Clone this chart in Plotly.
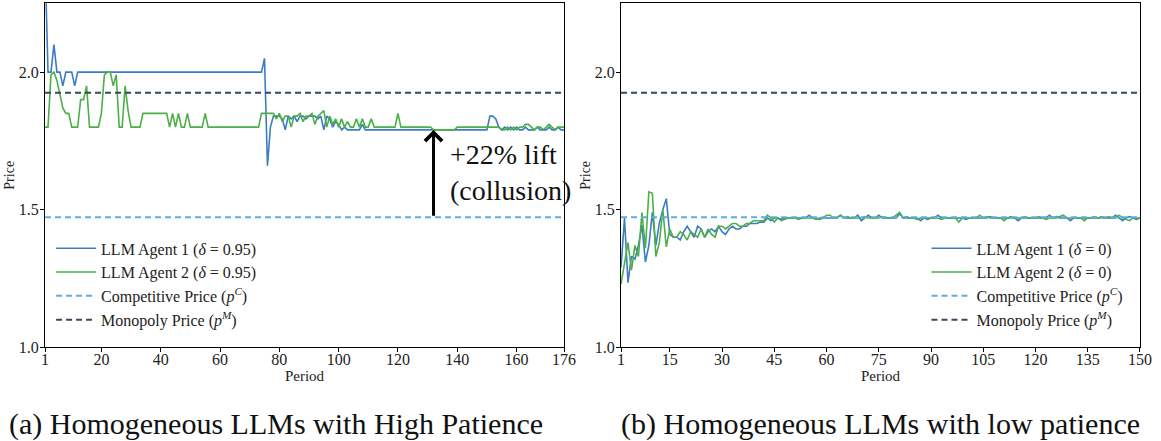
import plotly.graph_objects as go

# ---------------- data ----------------
periods_a = list(range(1, 177))
periods_b = list(range(1, 151))

agent1_high = [
    2.40, 2.00, 2.00, 2.10, 2.00, 2.00, 1.95, 2.00, 2.00, 2.00,
    1.95, 2.00, 2.00, 2.00, 2.00, 2.00, 2.00, 2.00, 2.00, 2.00,
    2.00, 2.00, 2.00, 2.00, 2.00, 2.00, 2.00, 2.00, 2.00, 2.00,
    2.00, 2.00, 2.00, 2.00, 2.00, 2.00, 2.00, 2.00, 2.00, 2.00,
    2.00, 2.00, 2.00, 2.00, 2.00, 2.00, 2.00, 2.00, 2.00, 2.00,
    2.00, 2.00, 2.00, 2.00, 2.00, 2.00, 2.00, 2.00, 2.00, 2.00,
    2.00, 2.00, 2.00, 2.00, 2.00, 2.00, 2.00, 2.00, 2.00, 2.00,
    2.00, 2.00, 2.00, 2.00, 2.05, 1.66, 1.80, 1.84, 1.84, 1.84,
    1.83, 1.79, 1.84, 1.83, 1.84, 1.82, 1.84, 1.84, 1.83, 1.84,
    1.84, 1.84, 1.83, 1.84, 1.79, 1.84, 1.83, 1.80, 1.82, 1.81,
    1.79, 1.80, 1.79, 1.79, 1.79, 1.79, 1.79, 1.81, 1.79, 1.79,
    1.79, 1.79, 1.79, 1.79, 1.79, 1.79, 1.79, 1.79, 1.79, 1.79,
    1.79, 1.79, 1.79, 1.79, 1.79, 1.79, 1.79, 1.79, 1.79, 1.79,
    1.79, 1.79, 1.79, 1.79, 1.79, 1.79, 1.79, 1.79, 1.79, 1.79,
    1.79, 1.79, 1.79, 1.79, 1.79, 1.79, 1.79, 1.79, 1.79, 1.79,
    1.84, 1.84, 1.83, 1.80, 1.79, 1.80, 1.79, 1.80, 1.79, 1.80,
    1.79, 1.79, 1.80, 1.79, 1.79, 1.79, 1.80, 1.79, 1.79, 1.79,
    1.80, 1.79, 1.79, 1.80, 1.79, 1.79,
]

agent2_high = [
    1.80, 1.80, 1.99, 2.00, 1.97, 1.92, 1.87, 1.85, 1.85, 1.80,
    1.80, 1.80, 1.90, 1.90, 1.95, 1.80, 1.80, 1.80, 1.80, 1.85,
    1.99, 2.00, 2.00, 1.95, 1.99, 1.80, 1.80, 1.95, 1.86, 1.80,
    1.80, 1.80, 1.80, 1.85, 1.85, 1.85, 1.85, 1.85, 1.85, 1.85,
    1.85, 1.85, 1.80, 1.85, 1.80, 1.85, 1.80, 1.80, 1.85, 1.80,
    1.80, 1.80, 1.80, 1.80, 1.85, 1.80, 1.80, 1.80, 1.80, 1.80,
    1.80, 1.80, 1.80, 1.80, 1.80, 1.80, 1.80, 1.80, 1.80, 1.80,
    1.80, 1.80, 1.80, 1.85, 1.85, 1.85, 1.85, 1.85, 1.83, 1.85,
    1.82, 1.84, 1.84, 1.80, 1.84, 1.84, 1.85, 1.82, 1.84, 1.84,
    1.85, 1.81, 1.84, 1.85, 1.86, 1.80, 1.84, 1.81, 1.83, 1.80,
    1.83, 1.80, 1.82, 1.80, 1.80, 1.83, 1.80, 1.83, 1.80, 1.80,
    1.83, 1.80, 1.80, 1.80, 1.80, 1.80, 1.80, 1.80, 1.80, 1.85,
    1.80, 1.80, 1.80, 1.80, 1.80, 1.80, 1.80, 1.80, 1.80, 1.80,
    1.80, 1.79, 1.79, 1.79, 1.79, 1.79, 1.79, 1.79, 1.79, 1.80,
    1.80, 1.80, 1.80, 1.80, 1.80, 1.80, 1.80, 1.80, 1.80, 1.80,
    1.80, 1.80, 1.80, 1.80, 1.79, 1.79, 1.80, 1.79, 1.80, 1.79,
    1.80, 1.80, 1.81, 1.81, 1.80, 1.79, 1.80, 1.80, 1.79, 1.80,
    1.81, 1.80, 1.79, 1.80, 1.80, 1.80,
]

agent1_low = [
    1.29, 1.47, 1.235, 1.33, 1.32, 1.37, 1.445, 1.31, 1.37, 1.49,
    1.37, 1.45, 1.50, 1.54, 1.41, 1.40, 1.40, 1.39, 1.42, 1.44,
    1.42, 1.40, 1.44, 1.43, 1.40, 1.42, 1.43, 1.42, 1.44, 1.42,
    1.41, 1.43, 1.44, 1.43, 1.43, 1.44, 1.44, 1.45, 1.45, 1.45,
    1.455, 1.455, 1.47, 1.46, 1.47, 1.47, 1.465, 1.47, 1.47, 1.47,
    1.47, 1.47, 1.47, 1.47, 1.48, 1.47, 1.47, 1.465, 1.47, 1.47,
    1.47, 1.47, 1.47, 1.48, 1.47, 1.47, 1.47, 1.47, 1.48, 1.46,
    1.47, 1.48, 1.47, 1.47, 1.48, 1.47, 1.47, 1.47, 1.47, 1.47,
    1.485, 1.47, 1.47, 1.47, 1.47, 1.47, 1.46, 1.47, 1.465, 1.47,
    1.47, 1.48, 1.47, 1.47, 1.47, 1.47, 1.47, 1.47, 1.47, 1.465,
    1.47, 1.47, 1.47, 1.47, 1.47, 1.47, 1.475, 1.47, 1.47, 1.47,
    1.47, 1.47, 1.475, 1.47, 1.46, 1.47, 1.47, 1.47, 1.47, 1.47,
    1.47, 1.47, 1.47, 1.48, 1.47, 1.475, 1.47, 1.47, 1.47, 1.46,
    1.47, 1.47, 1.47, 1.47, 1.47, 1.47, 1.47, 1.47, 1.475, 1.47,
    1.47, 1.47, 1.48, 1.47, 1.46, 1.47, 1.475, 1.47, 1.465, 1.47,
]

agent2_low = [
    1.23, 1.30, 1.38, 1.28, 1.37, 1.33, 1.49, 1.36, 1.565, 1.56,
    1.33, 1.38, 1.50, 1.365, 1.43, 1.40, 1.40, 1.42, 1.41, 1.39,
    1.42, 1.41, 1.40, 1.43, 1.40, 1.43, 1.41, 1.40, 1.44, 1.44,
    1.43, 1.44, 1.45, 1.45, 1.44, 1.44, 1.45, 1.45, 1.46, 1.46,
    1.46, 1.46, 1.48, 1.47, 1.455, 1.47, 1.46, 1.465, 1.47, 1.47,
    1.47, 1.465, 1.47, 1.47, 1.47, 1.47, 1.465, 1.47, 1.47, 1.48,
    1.48, 1.47, 1.47, 1.48, 1.47, 1.475, 1.47, 1.47, 1.47, 1.47,
    1.475, 1.47, 1.47, 1.47, 1.47, 1.475, 1.47, 1.47, 1.47, 1.48,
    1.49, 1.47, 1.475, 1.47, 1.47, 1.465, 1.47, 1.47, 1.47, 1.47,
    1.47, 1.47, 1.465, 1.47, 1.47, 1.47, 1.47, 1.455, 1.47, 1.47,
    1.47, 1.47, 1.47, 1.48, 1.47, 1.475, 1.47, 1.47, 1.47, 1.47,
    1.46, 1.47, 1.47, 1.47, 1.47, 1.47, 1.475, 1.47, 1.47, 1.47,
    1.475, 1.47, 1.465, 1.47, 1.47, 1.47, 1.475, 1.48, 1.47, 1.47,
    1.47, 1.47, 1.47, 1.46, 1.47, 1.47, 1.475, 1.47, 1.47, 1.47,
    1.475, 1.47, 1.47, 1.48, 1.47, 1.465, 1.46, 1.47, 1.47, 1.47,
]

competitive_price = 1.4729
monopoly_price = 1.9249

xticks_a = [1, 20, 40, 60, 80, 100, 120, 140, 160, 176]
xticks_b = [1, 15, 30, 45, 60, 75, 90, 105, 120, 135, 150]
yticks = [1.0, 1.5, 2.0]

captions = ["(a) Homogeneous LLMs with High Patience",
            "(b) Homogeneous LLMs with low patience"]
lift_label = "+22% lift<br>(collusion)"
arrow_period = 132

# ---------------- style ----------------
C_A1 = "#3a7dc1"
C_A2 = "#4caf47"
C_COMP = "#5dade2"
C_MONO = "#34495e"
FONT = "Liberation Serif"

fig = go.Figure()


def add_panel(xs, a1, a2, delta, xa, ya, legend_name):
    fig.add_trace(go.Scatter(x=xs, y=a1, mode="lines", xaxis=xa, yaxis=ya,
                             line=dict(color=C_A1, width=1.6),
                             name=f"LLM Agent 1 (<i>δ</i> = {delta})",
                             legend=legend_name, legendgroup=legend_name + "a"))
    fig.add_trace(go.Scatter(x=xs, y=a2, mode="lines", xaxis=xa, yaxis=ya,
                             line=dict(color=C_A2, width=1.6),
                             name=f"LLM Agent 2 (<i>δ</i> = {delta})",
                             legend=legend_name, legendgroup=legend_name + "b"))
    span = [xs[0], xs[-1]]
    fig.add_trace(go.Scatter(x=span, y=[competitive_price] * 2, mode="lines",
                             xaxis=xa, yaxis=ya,
                             line=dict(color=C_COMP, width=2, dash="6px,4px"),
                             name="Competitive Price (<i>p</i><sup><i>C</i></sup>)",
                             legend=legend_name, legendgroup=legend_name + "c"))
    fig.add_trace(go.Scatter(x=span, y=[monopoly_price] * 2, mode="lines",
                             xaxis=xa, yaxis=ya,
                             line=dict(color=C_MONO, width=2, dash="6px,4px"),
                             name="Monopoly Price (<i>p</i><sup><i>M</i></sup>)",
                             legend=legend_name, legendgroup=legend_name + "d"))


add_panel(periods_a, agent1_high, agent2_high, "0.95", "x", "y", "legend")
add_panel(periods_b, agent1_low, agent2_low, "0", "x2", "y2", "legend2")

axis_common = dict(showline=True, linecolor="black", linewidth=1.2, mirror=True,
                   ticks="outside", ticklen=4, tickcolor="black",
                   showgrid=False, zeroline=False, automargin=False,
                   tickfont=dict(family=FONT, size=16, color="#222"))
x_common = dict(ticklabelstandoff=-7, **axis_common)
y_common = dict(ticklabelstandoff=-2, **axis_common)

ydom = [0.2125, 0.9925]
legend_common = dict(bgcolor="rgba(255,255,255,0.8)", borderwidth=0,
                     font=dict(family=FONT, size=16, color="#222"),
                     tracegroupgap=0, itemwidth=40)
fig.update_layout(
    width=1161, height=441,
    margin=dict(l=0, r=0, t=0, b=0, autoexpand=False),
    paper_bgcolor="white", plot_bgcolor="white",
    font=dict(family=FONT, color="#222"),
    xaxis=dict(domain=[0.0388, 0.4858], range=[1, 176], tickvals=xticks_a,
               title=dict(text="Period", font=dict(family=FONT, size=15), standoff=0),
               anchor="y", **x_common),
    yaxis=dict(domain=ydom, range=[1.0, 2.25], tickvals=yticks,
               ticktext=[f"{v:.1f}" for v in yticks],
               title=dict(text="Price", font=dict(family=FONT, size=14), standoff=0),
               anchor="x", **y_common),
    xaxis2=dict(domain=[0.5349, 0.9819], range=[1, 150], tickvals=xticks_b,
                title=dict(text="Period", font=dict(family=FONT, size=15), standoff=0),
                anchor="y2", **x_common),
    yaxis2=dict(domain=ydom, range=[1.0, 2.25], tickvals=yticks,
                ticktext=[f"{v:.1f}" for v in yticks],
                title=dict(text="Price", font=dict(family=FONT, size=14), standoff=0),
                anchor="x2", **y_common),
    legend=dict(x=0.044, y=0.235, xanchor="left", yanchor="bottom", **legend_common),
    legend2=dict(x=0.972, y=0.235, xanchor="right", yanchor="bottom", **legend_common),
)

# arrow from competitive price up to the sustained agent price
fig.add_annotation(x=arrow_period, y=agent1_high[arrow_period - 1],
                   ax=arrow_period, ay=competitive_price,
                   xref="x", yref="y", axref="x", ayref="y",
                   text="", showarrow=True, arrowhead=4, arrowsize=1.1,
                   arrowwidth=3, arrowcolor="black")
fig.add_annotation(x=arrow_period + 5, y=1.635, xref="x", yref="y",
                   text=lift_label, showarrow=False, xanchor="left",
                   yanchor="middle", align="left",
                   font=dict(family=FONT, size=28, color="#111"))

for i, cap in enumerate(captions):
    fig.add_annotation(x=[0.2377, 0.7588][i], y=0.038, xref="paper", yref="paper",
                       text=cap, showarrow=False, xanchor="center",
                       yanchor="middle",
                       font=dict(family=FONT, size=30, color="#111"))

fig.write_html("out.html")
